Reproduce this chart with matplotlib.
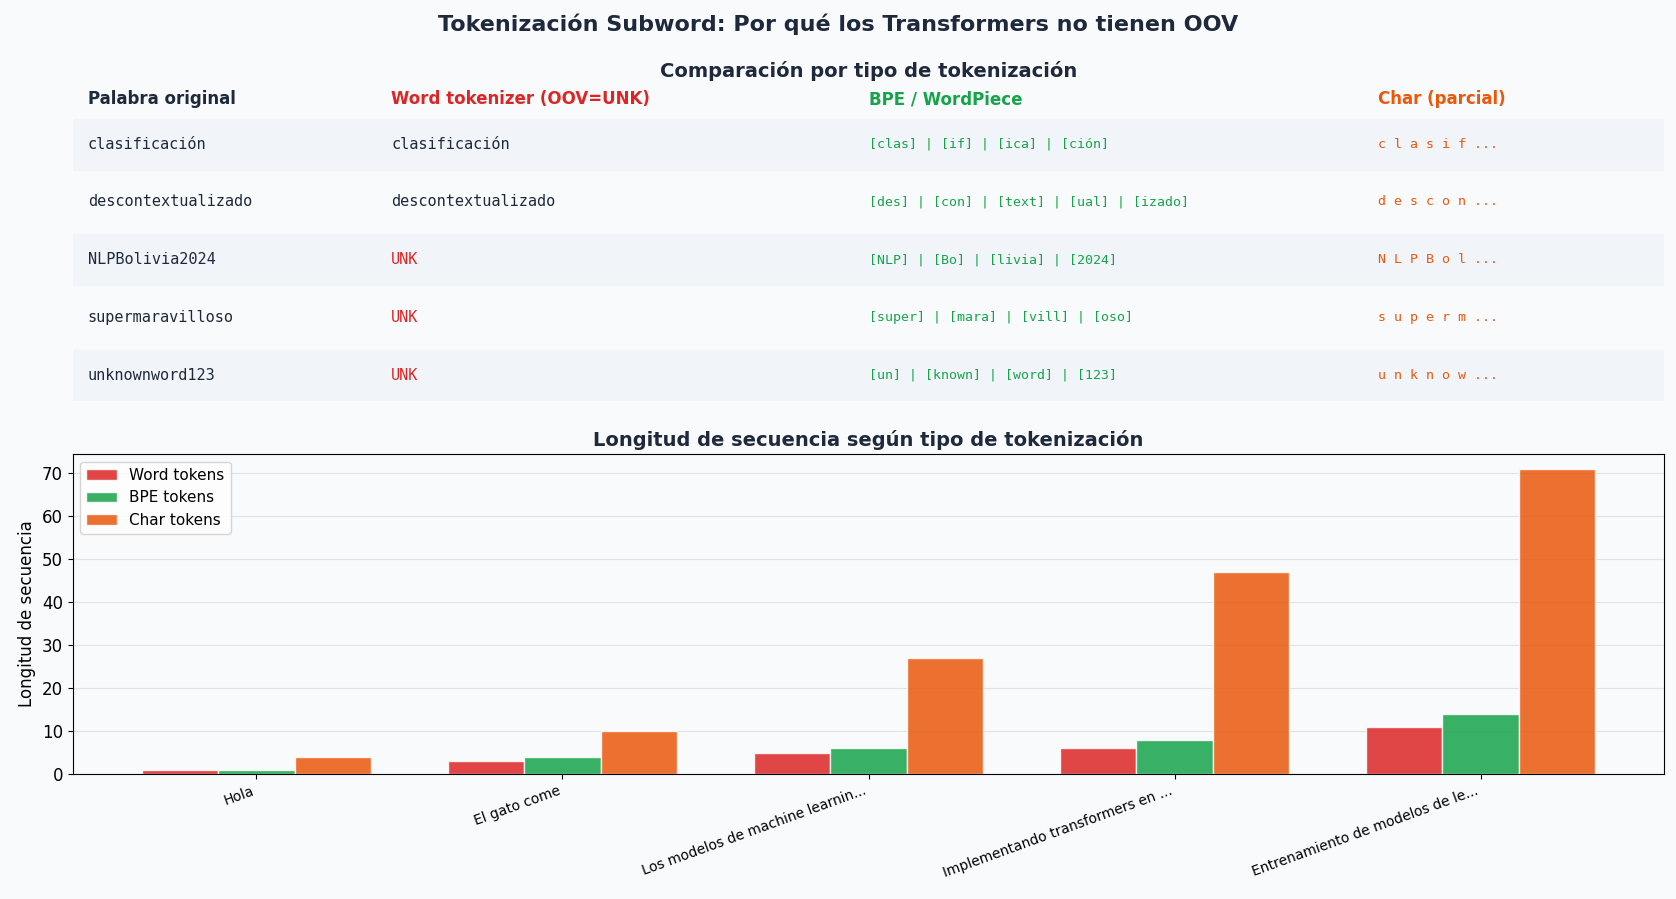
import matplotlib.pyplot as plt
import numpy as np

words = ["clasificación", "descontextualizado", "NLPBolivia2024", "supermaravilloso", "unknownword123"]
word_tok = ["clasificación", "descontextualizado", "UNK", "UNK", "UNK"]
bpe_tok = ["[clas] | [if] | [ica] | [ción]",
           "[des] | [con] | [text] | [ual] | [izado]",
           "[NLP] | [Bo] | [livia] | [2024]",
           "[super] | [mara] | [vill] | [oso]",
           "[un] | [known] | [word] | [123]"]
char_tok = ["c l a s i f ...", "d e s c o n ...", "N L P B o l ...", "s u p e r m ...", "u n k n o w ..."]
headers = ["Palabra original", "Word tokenizer (OOV=UNK)", "BPE / WordPiece", "Char (parcial)"]

sentences = ["Hola", "El gato come", "Los modelos de machine learnin...",
             "Implementando transformers en ...", "Entrenamiento de modelos de le..."]
word_len = [1, 3, 5, 6, 11]
bpe_len = [1, 4, 6, 8, 14]
char_len = [4, 10, 27, 47, 71]

BG = "#f8fafc"
DARK = "#1e293b"
RED, GREEN, ORANGE = "#dc2626", "#16a34a", "#ea580c"

fig = plt.figure(figsize=(16.76, 8.99), dpi=100, facecolor=BG)
fig.text(0.5, 0.973, "Tokenización Subword: Por qué los Transformers no tienen OOV",
         ha="center", va="center", fontsize=16, fontweight="bold", color=DARK)

# table
tab = fig.add_axes([0.0434, 0.554, 0.9496, 0.351])
tab.set_xlim(0, 1)
tab.set_ylim(375, 80)
tab.axis("off")
tab.set_title("Comparación por tipo de tokenización", fontsize=14, fontweight="bold",
              color=DARK, pad=6)
colx = [0.0094, 0.2, 0.5, 0.82]
hcolors = [DARK, RED, GREEN, ORANGE]
for x, h, c in zip(colx, headers, hcolors):
    tab.text(x, 93, h, ha="left", va="center", fontsize=12, fontweight="bold", color=c)
for i in range(len(words)):
    yc = 135 + 54 * i
    if i % 2 == 0:
        tab.axhspan(yc - 24, yc + 24, color="#f1f5f9", zorder=0)
    tab.text(colx[0], yc, words[i], ha="left", va="center", family="monospace",
             fontsize=11, color=DARK)
    tab.text(colx[1], yc, word_tok[i], ha="left", va="center", family="monospace",
             fontsize=11, color=RED if word_tok[i] == "UNK" else DARK)
    tab.text(colx[2], yc, bpe_tok[i], ha="left", va="center", family="monospace",
             fontsize=9.5, color=GREEN)
    tab.text(colx[3], yc, char_tok[i], ha="left", va="center", family="monospace",
             fontsize=9.5, color=ORANGE)

# bars
ax = fig.add_axes([0.0434, 0.139, 0.9496, 0.356])
ax.set_facecolor(BG)
x = np.arange(len(sentences))
w = 0.25
ax.bar(x - w, word_len, w, color=RED, alpha=0.85, edgecolor="white", label="Word tokens")
ax.bar(x, bpe_len, w, color=GREEN, alpha=0.85, edgecolor="white", label="BPE tokens")
ax.bar(x + w, char_len, w, color=ORANGE, alpha=0.85, edgecolor="white", label="Char tokens")
ax.set_xlim(-0.6, 4.6)
ax.set_ylim(0, 74.5)
ax.set_xticks(x)
ax.set_xticklabels(sentences, rotation=20, ha="right", fontsize=10)
ax.tick_params(axis="y", labelsize=12)
ax.set_ylabel("Longitud de secuencia", fontsize=12)
ax.set_title("Longitud de secuencia según tipo de tokenización", fontsize=14,
             fontweight="bold", color=DARK, pad=6)
ax.yaxis.grid(True, color="#e2e2e2")
ax.set_axisbelow(True)
ax.legend(loc="upper left", fontsize=11)

fig.savefig("out.png", dpi=100, facecolor=BG)
